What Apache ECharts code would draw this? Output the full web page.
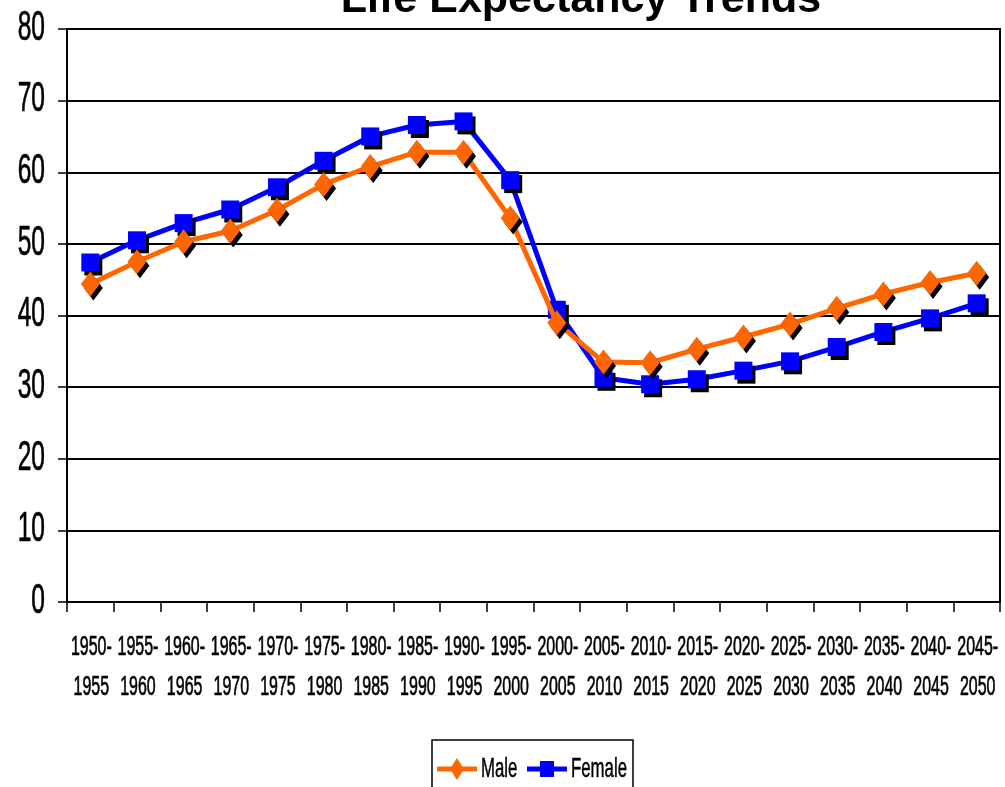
<!DOCTYPE html>
<html><head><meta charset="utf-8">
<script src="https://cdn.jsdelivr.net/npm/echarts@6/dist/echarts.min.js"></script>
<style>html,body{margin:0;padding:0;background:#fff}#c{width:1005px;height:787px}</style>
</head><body><div id="c"></div>
<script>
const categories = ['1950-\n1955','1955-\n1960','1960-\n1965','1965-\n1970','1970-\n1975','1975-\n1980','1980-\n1985','1985-\n1990','1990-\n1995','1995-\n2000','2000-\n2005','2005-\n2010','2010-\n2015','2015-\n2020','2020-\n2025','2025-\n2030','2030-\n2035','2035-\n2040','2040-\n2045','2045-\n2050'];
const male = [44.4,47.5,50.3,51.8,54.7,58.3,60.8,62.8,62.8,53.6,39.0,33.5,33.4,35.3,37.0,38.8,41.0,43.0,44.6,45.9];
const female = [47.4,50.5,52.9,54.8,57.9,61.6,65.0,66.6,67.1,58.9,40.8,31.3,30.4,31.1,32.3,33.6,35.6,37.7,39.6,41.7];
const yTickLabels = ['0','10','20','30','40','50','60','70','80'];
const yTicks = {min:0, max:80, interval:10};
const seriesNames = ['Male','Female'];
const colors = ['#FF6600','#0000FF'];
const font = '"Liberation Sans",Arial,sans-serif';
const chart = echarts.init(document.getElementById('c'));
chart.setOption({
  animation:false,
  title:{text:'Life Expectancy Trends', left:576, top:-26, textAlign:'center',
    textStyle:{fontFamily:font, fontWeight:'bold', fontSize:43, color:'#000'}},
  grid:{left:67, right:5, top:29, bottom:185, show:true, borderColor:'#000', borderWidth:2},
  xAxis:{type:'category', data:categories, boundaryGap:true,
    axisLine:{lineStyle:{color:'#000', width:2}},
    axisTick:{show:true, interval:0, length:10, lineStyle:{color:'#000', width:1.5}},
    axisLabel:{show:false}},
  yAxis:{type:'value', min:yTicks.min, max:yTicks.max, interval:yTicks.interval,
    axisLine:{show:true, lineStyle:{color:'#000', width:2}},
    axisTick:{show:true, length:9, lineStyle:{color:'#000', width:1.5}},
    splitLine:{lineStyle:{color:'#000', width:2}},
    axisLabel:{show:false}},
  series:[
    {name:seriesNames[0], type:'line', data:male, symbol:'diamond', symbolSize:[19,25], z:3,
      lineStyle:{color:colors[0], width:5},
      itemStyle:{color:colors[0], shadowColor:'#000', shadowOffsetX:3, shadowOffsetY:4, shadowBlur:0}},
    {name:seriesNames[1], type:'line', data:female, symbol:'rect', symbolSize:18, z:2,
      lineStyle:{color:colors[1], width:5},
      itemStyle:{color:colors[1], shadowColor:'#000', shadowOffsetX:3, shadowOffsetY:4, shadowBlur:0}}
  ]
});
// narrow (horizontally condensed) axis labels, placed through the axes' own scales
const txt = (text, size) => ({text, fontFamily:font, fontSize:size, fill:'#000', stroke:'#000', lineWidth:0.7});
const g = [];
categories.forEach((c, i) => {
  const x = chart.convertToPixel({xAxisIndex:0}, i);
  const lines = c.split('\n');
  g.push({type:'text', x:x+1, y:647, scaleX:0.57, silent:true,
    style:Object.assign(txt(lines[0], 28), {align:'center', verticalAlign:'middle'})});
  g.push({type:'text', x:x+1, y:687, scaleX:0.57, silent:true,
    style:Object.assign(txt(lines[1], 28), {align:'center', verticalAlign:'middle'})});
});
yTickLabels.forEach((t) => {
  const y = chart.convertToPixel({yAxisIndex:0}, Number(t));
  g.push({type:'text', x:45, y:y-1, scaleX:0.57, silent:true,
    style:Object.assign(txt(t, 43), {align:'right', verticalAlign:'middle'})});
});
// legend box
const lx = 432, ly = 740;
g.push({type:'rect', shape:{x:lx, y:ly, width:201, height:60}, silent:true,
  style:{fill:'#fff', stroke:'#000', lineWidth:1.5}});
const items = [{x:lx+5, w:40, sym:'diamond'}, {x:lx+95, w:40, sym:'rect'}];
items.forEach((it, k) => {
  const cx = it.x+it.w/2, cy = ly+29;
  g.push({type:'line', shape:{x1:it.x, y1:cy, x2:it.x+it.w, y2:cy}, silent:true,
    style:{stroke:colors[k], lineWidth:5}});
  if (it.sym === 'diamond') {
    g.push({type:'polygon', shape:{points:[[cx,cy-11],[cx+7,cy],[cx,cy+11],[cx-7,cy]]}, silent:true, style:{fill:colors[k]}});
  } else {
    g.push({type:'rect', shape:{x:cx-7, y:cy-8, width:14, height:16}, silent:true, style:{fill:colors[k]}});
  }
  g.push({type:'text', x:it.x+it.w+4, y:cy, scaleX:0.6, silent:true,
    style:Object.assign(txt(seriesNames[k], 28), {align:'left', verticalAlign:'middle', lineWidth:0.5})});
});
chart.setOption({graphic:g});
</script></body></html>
